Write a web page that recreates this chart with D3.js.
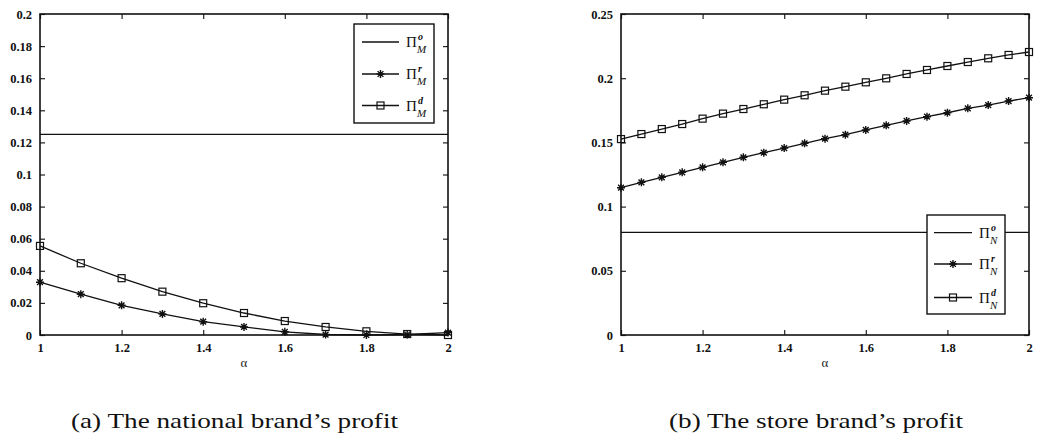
<!DOCTYPE html>
<html><head><meta charset="utf-8">
<script src="https://cdn.jsdelivr.net/npm/d3@7"></script>
<style>body{margin:0;background:#fff}svg{display:block}</style>
</head><body>
<svg id="c" width="1041" height="437"></svg>
<script>
// ---- data ----
const alphaA = [1,1.1,1.2,1.3,1.4,1.5,1.6,1.7,1.8,1.9,2];
const PiM_o = 0.125;
const PiM_r = [0.0329,0.0254,0.0185,0.0131,0.0083,0.0050,0.0020,0.0003,0.0000,0.0003,0.0015];
const PiM_d = [0.0555,0.0447,0.0354,0.0270,0.0198,0.0137,0.0087,0.0050,0.0023,0.0006,0.0000];
const alphaB = [1,1.05,1.1,1.15,1.2,1.25,1.3,1.35,1.4,1.45,1.5,1.55,1.6,1.65,1.7,1.75,1.8,1.85,1.9,1.95,2];
const PiN_o = 0.08;
const PiN_r = [0.1147,0.1189,0.1228,0.1267,0.1306,0.1345,0.1384,0.1420,0.1456,0.1493,0.1529,0.1560,0.1597,0.1633,0.1667,0.1700,0.1731,0.1765,0.1791,0.1822,0.1848];
const PiN_d = [0.1526,0.1565,0.1604,0.1643,0.1685,0.1724,0.1760,0.1797,0.1833,0.1867,0.1903,0.1934,0.1968,0.1999,0.2033,0.2064,0.2095,0.2126,0.2155,0.2181,0.2204];
const xTicks = [1,1.2,1.4,1.6,1.8,2];
const xTickLabels = ["1","1.2","1.4","1.6","1.8","2"];
const yTicksA = [0,0.02,0.04,0.06,0.08,0.1,0.12,0.14,0.16,0.18,0.2];
const yTickLabelsA = ["0","0.02","0.04","0.06","0.08","0.1","0.12","0.14","0.16","0.18","0.2"];
const yTicksB = [0,0.05,0.1,0.15,0.2,0.25];
const yTickLabelsB = ["0","0.05","0.1","0.15","0.2","0.25"];
const legendSubA = "M", legendSubB = "N";
const legendSups = ["o","r","d"];
const captions = ["(a) The national brand\u2019s profit","(b) The store brand\u2019s profit"];
const xLabel = "\u03b1";

const svg = d3.select("#c");
const serif = "'Liberation Serif','Times New Roman',serif";

function starPath(s){ // MATLAB-like asterisk
  const r=s/2, d=r*0.72;
  return `M${-r},0L${r},0M0,${-r}L0,${r}M${-d},${-d}L${d},${d}M${-d},${d}L${d},${-d}`;
}

function panel(opt){
  const {x0,x1,y0,y1,xs,yMax,yTicks,yLabels,horiz,rVals,dVals,legend,sub} = opt;
  const x = d3.scaleLinear().domain([1,2]).range([x0,x1]);
  const y = d3.scaleLinear().domain([0,yMax]).range([y1,y0]);
  const g = svg.append("g");
  const tl = 5;
  const xAxB = d3.axisBottom(x).tickValues(xTicks).tickSize(-tl).tickFormat((d,i)=>xTickLabels[i]).tickPadding(9);
  const xAxT = d3.axisTop(x).tickValues(xTicks).tickSize(-tl).tickFormat("");
  const yAxL = d3.axisLeft(y).tickValues(yTicks).tickSize(-tl).tickFormat((d,i)=>yLabels[i]).tickPadding(8);
  const yAxR = d3.axisRight(y).tickValues(yTicks).tickSize(-tl).tickFormat("");
  const axs = [
    g.append("g").attr("transform",`translate(0,${y1})`).call(xAxB),
    g.append("g").attr("transform",`translate(0,${y0})`).call(xAxT),
    g.append("g").attr("transform",`translate(${x0},0)`).call(yAxL),
    g.append("g").attr("transform",`translate(${x1},0)`).call(yAxR)
  ];
  axs.forEach(a=>{
    a.attr("font-family",null);
    a.select(".domain").remove();
    a.selectAll(".tick line").attr("stroke","#222").attr("stroke-width",1.2);
    a.selectAll("text").attr("font-family",serif).attr("font-weight","bold").attr("font-size",12.5).attr("fill","#111");
  });
  axs[0].selectAll("text").attr("dy","0.62em");
  const line = d3.line().x(d=>x(d[0])).y(d=>y(d[1]));
  g.append("line").attr("x1",x0).attr("x2",x1).attr("y1",y(horiz)).attr("y2",y(horiz))
    .attr("stroke","#111").attr("stroke-width",1.3);
  const rPts = xs.map((a,i)=>[a,rVals[i]]);
  const dPts = xs.map((a,i)=>[a,dVals[i]]);
  g.append("path").attr("d",line(rPts)).attr("fill","none").attr("stroke","#111").attr("stroke-width",1.3);
  g.append("path").attr("d",line(dPts)).attr("fill","none").attr("stroke","#111").attr("stroke-width",1.3);
  g.selectAll(".st").data(rPts).join("path").attr("transform",d=>`translate(${x(d[0])},${y(d[1])})`)
    .attr("d",starPath(8)).attr("stroke","#111").attr("stroke-width",1.4).attr("fill","none");
  g.selectAll(".sq").data(dPts).join("rect").attr("x",d=>x(d[0])-3.5).attr("y",d=>y(d[1])-3.5)
    .attr("width",7).attr("height",7).attr("fill","none").attr("stroke","#111").attr("stroke-width",1.2);
  g.append("rect").attr("x",x0).attr("y",y0).attr("width",x1-x0).attr("height",y1-y0)
    .attr("fill","none").attr("stroke","#111").attr("stroke-width",1.6);
  g.append("text").attr("x",(x0+x1)/2).attr("y",y1+32).attr("text-anchor","middle")
    .attr("font-family",serif).attr("font-size",13).attr("fill","#222").text(xLabel);
  const L = legend;
  const lg = g.append("g");
  lg.append("rect").attr("x",L.bx0).attr("y",L.by0).attr("width",L.bx1-L.bx0).attr("height",L.by1-L.by0)
    .attr("fill","#fff").attr("stroke","#111").attr("stroke-width",1.4);
  legendSups.forEach((s,i)=>{
    const ly = L.ys[i];
    lg.append("line").attr("x1",L.lx0).attr("x2",L.lx1).attr("y1",ly).attr("y2",ly).attr("stroke","#111").attr("stroke-width",1.3);
    const mx = (L.lx0+L.lx1)/2;
    if(i===1) lg.append("path").attr("transform",`translate(${mx},${ly})`).attr("d",starPath(8)).attr("stroke","#111").attr("stroke-width",1.4);
    if(i===2) lg.append("rect").attr("x",mx-3.5).attr("y",ly-3.5).attr("width",7).attr("height",7).attr("fill","none").attr("stroke","#111").attr("stroke-width",1.2);
    lg.append("text").attr("x",L.tx).attr("y",ly+5).attr("font-family",serif).attr("font-size",15).attr("fill","#111").text("\u03a0");
    lg.append("text").attr("x",L.tx+12).attr("y",ly-2).attr("font-family",serif).attr("font-style","italic").attr("font-weight","bold").attr("font-size",10).attr("fill","#111").text(s);
    lg.append("text").attr("x",L.tx+11).attr("y",ly+11).attr("font-family",serif).attr("font-style","italic").attr("font-size",11).attr("fill","#111").text(sub);
  });
}

panel({x0:40,x1:448,y0:14,y1:335,xs:alphaA,yMax:0.2,yTicks:yTicksA,yLabels:yTickLabelsA,
  horiz:PiM_o,rVals:PiM_r,dVals:PiM_d,sub:legendSubA,
  legend:{bx0:354,bx1:434,by0:24,by1:123,ys:[42,74,105.5],lx0:362,lx1:399,tx:406}});
panel({x0:621,x1:1029,y0:14,y1:335,xs:alphaB,yMax:0.25,yTicks:yTicksB,yLabels:yTickLabelsB,
  horiz:PiN_o,rVals:PiN_r,dVals:PiN_d,sub:legendSubB,
  legend:{bx0:927,bx1:1005,by0:215,by1:314,ys:[232.7,264,297.5],lx0:934,lx1:972,tx:979}});

svg.append("text").attr("x",71).attr("y",428).attr("font-family",serif).attr("font-size",21.5)
  .attr("textLength",327).attr("lengthAdjust","spacingAndGlyphs").attr("fill","#111").text(captions[0]);
svg.append("text").attr("x",669).attr("y",428).attr("font-family",serif).attr("font-size",21.5)
  .attr("textLength",294).attr("lengthAdjust","spacingAndGlyphs").attr("fill","#111").text(captions[1]);
</script>
</body></html>
